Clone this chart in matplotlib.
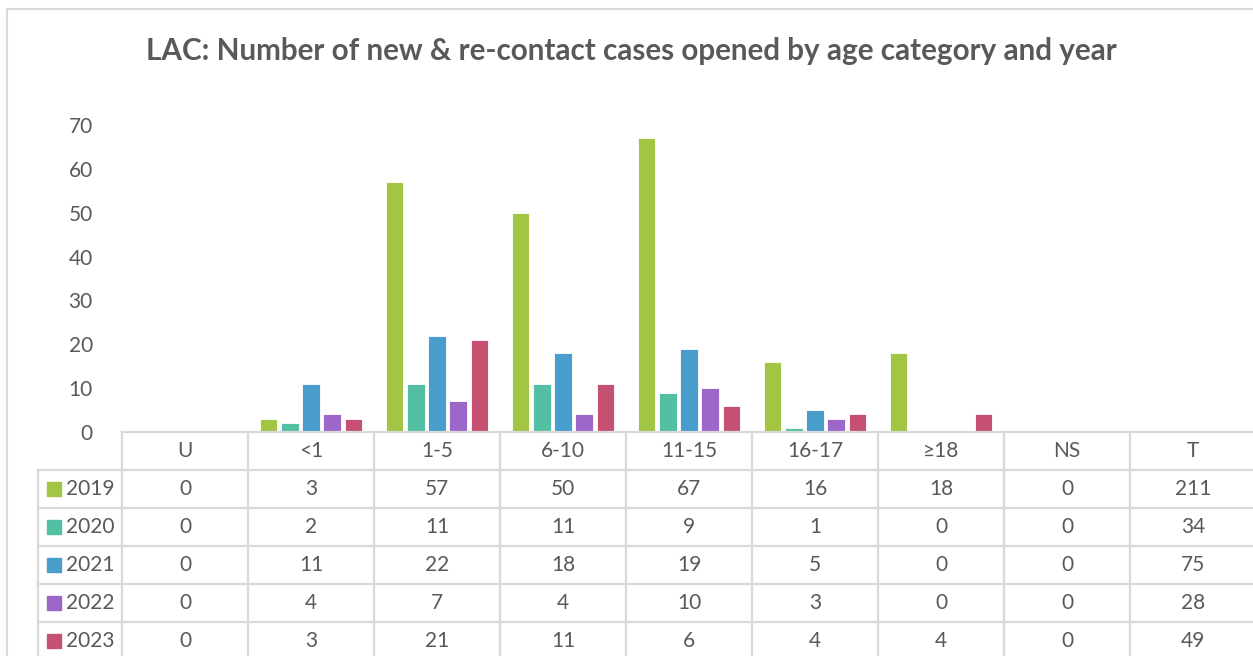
import matplotlib
matplotlib.use("Agg")
import matplotlib.pyplot as plt
import numpy as np

categories = ["U", "<1", "1-5", "6-10", "11-15", "16-17", "≥18", "NS", "T"]
years = ["2019", "2020", "2021", "2022", "2023"]
v2019 = [0, 3, 57, 50, 67, 16, 18, 0, 211]
v2020 = [0, 2, 11, 11, 9, 1, 0, 0, 34]
v2021 = [0, 11, 22, 18, 19, 5, 0, 0, 75]
v2022 = [0, 4, 7, 4, 10, 3, 0, 0, 28]
v2023 = [0, 3, 21, 11, 6, 4, 4, 0, 49]
series = [v2019, v2020, v2021, v2022, v2023]
colors = ["#A2C543", "#53C0A4", "#4A9ECE", "#9C67C9", "#C55072"]

TXT = "#595959"
GRID = "#D9D9D9"
plt.rcParams["font.family"] = ["Lato", "DejaVu Sans"]

W, H = 1253, 656
fig = plt.figure(figsize=(W / 100, H / 100), dpi=100)

# pixel layout of the Excel chart
x0, colw = 122, 126
y0, ytop = 432, 125
rowh = 38
labx = 38

ax = fig.add_axes([x0 / W, 1 - y0 / H, len(categories) * colw / W, (y0 - ytop) / H])
n_bar = len(categories) - 1  # total column has no bars
x = np.arange(n_bar)
step, bw = 0.1667, 0.135
for k, (vals, c) in enumerate(zip(series, colors)):
    ax.bar(x + (k - 2) * step, vals[:n_bar], width=bw, color=c,
           edgecolor="white", linewidth=0.6, zorder=3)
ax.set_xlim(-0.5, len(categories) - 0.5)
ax.set_ylim(0, 70)
ax.set_yticks(range(0, 71, 10))
ax.tick_params(axis="y", length=0, pad=21, labelsize=15, labelcolor=TXT)
ax.set_xticks([])
for s in ax.spines.values():
    s.set_visible(False)

# overlay in pixel coordinates for the data table and chart border
ov = fig.add_axes([0, 0, 1, 1], zorder=5)
ov.set_xlim(0, W)
ov.set_ylim(H, 0)
ov.axis("off")
ov.patch.set_alpha(0)

xend = x0 + len(categories) * colw
ybot = y0 + (len(years) + 1) * rowh
lw = 1.6
# chart frame
ov.plot([7, 7, W + 5], [H + 5, 9, 9], color=GRID, lw=1.5)
# horizontal lines
ov.plot([x0, xend], [y0, y0], color=GRID, lw=lw)
for r in range(1, len(years) + 2):
    yy = y0 + r * rowh
    ov.plot([labx, xend], [yy, yy], color=GRID, lw=lw)
# vertical lines
for i in range(len(categories) + 1):
    xx = x0 + i * colw
    ov.plot([xx, xx], [y0, ybot], color=GRID, lw=lw)
ov.plot([labx, labx], [y0 + rowh, ybot], color=GRID, lw=lw)

for i, cat in enumerate(categories):
    ov.text(x0 + (i + 0.5) * colw, y0 + rowh / 2, cat, ha="center", va="center",
            fontsize=15, color=TXT)
for r, (yr, vals, c) in enumerate(zip(years, series, colors)):
    yc = y0 + (r + 1.5) * rowh
    ov.add_patch(plt.Rectangle((47, yc - 7), 14, 14, color=c))
    ov.text(66, yc, yr, ha="left", va="center", fontsize=15, color=TXT)
    for i, v in enumerate(vals):
        ov.text(x0 + (i + 0.5) * colw, yc, str(v), ha="center", va="center",
                fontsize=15, color=TXT)

ov.text(631, 51, "LAC: Number of new & re-contact cases opened by age category and year",
        ha="center", va="center", fontsize=21.3, fontweight="bold", color=TXT)

fig.savefig("out.png", dpi=100)
